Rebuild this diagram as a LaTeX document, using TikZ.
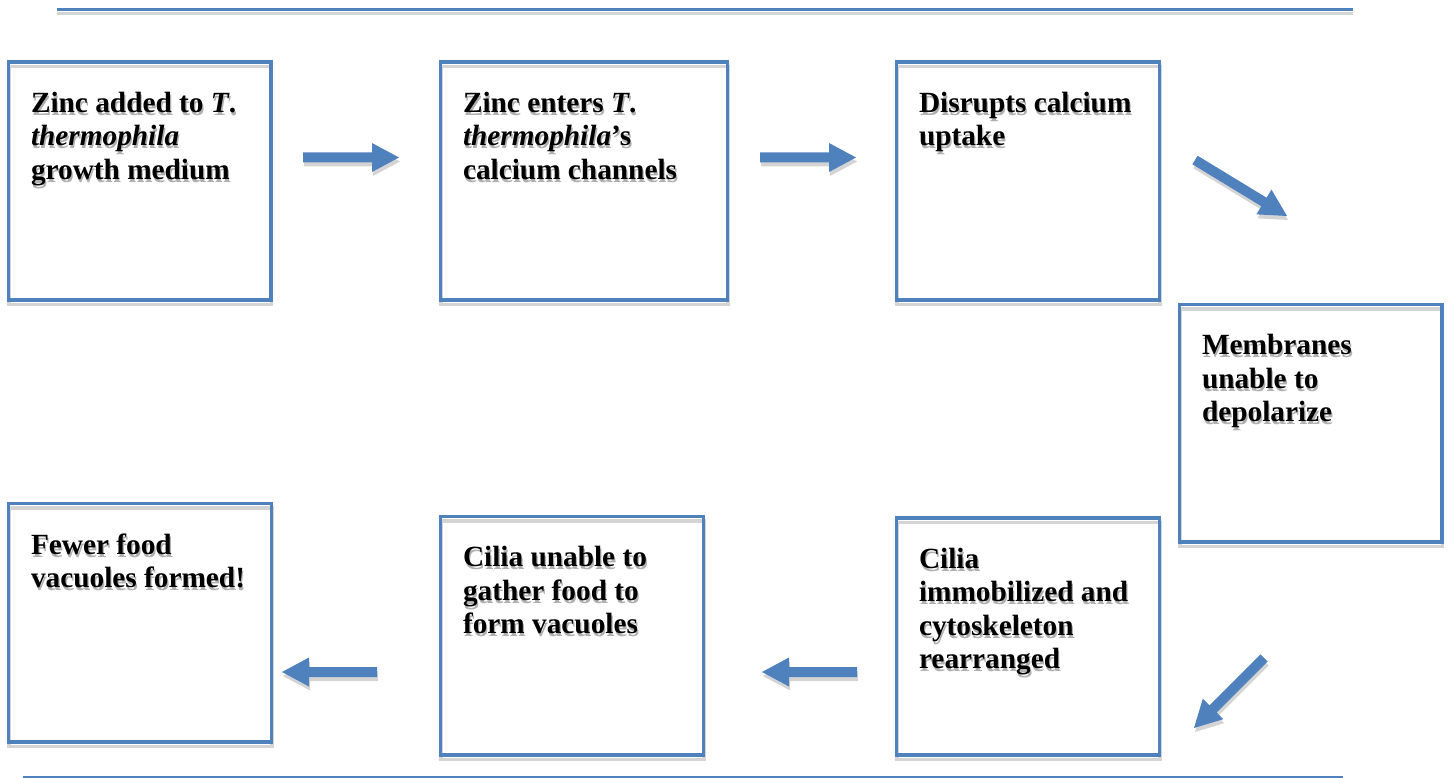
\documentclass[tikz,border=0pt]{standalone}
\usepackage{fontspec}
\setmainfont{Liberation Serif}
\usetikzlibrary{calc,backgrounds}
\definecolor{accent}{HTML}{4F81BD}
\definecolor{shade}{HTML}{D4D4D4}
\definecolor{tshade}{HTML}{B0B0B0}
\newcommand\blockarrow[3][]{%
  \coordinate (#2-hb) at ($(#3)!27pt!(#2)$);
  \fill[#1] ($(#2)!5pt!90:(#3)$) -- ($(#2-hb)!5pt!90:(#3)$) -- ($(#2-hb)!14.5pt!90:(#3)$) -- (#3)
     -- ($(#2-hb)!14.5pt!-90:(#3)$) -- ($(#2-hb)!5pt!-90:(#3)$) -- ($(#2)!5pt!-90:(#3)$) -- cycle;
}
\newcommand\TextA{Zinc added to \textit{T}.\\\textit{thermophila}\\growth medium}
\newcommand\TextB{Zinc enters \textit{T}.\\\textit{thermophila}’s\\calcium channels}
\newcommand\TextC{Disrupts calcium\\uptake}
\newcommand\TextD{Membranes\\unable to\\depolarize}
\newcommand\TextE{Cilia\\immobilized and\\cytoskeleton\\rearranged}
\newcommand\TextF{Cilia unable to\\gather food to\\form vacuoles}
\newcommand\TextG{Fewer food\\vacuoles formed!}
\tikzset{
  box/.style={draw=accent, line width=3.4pt, rectangle, inner sep=0pt, outer sep=0pt},
  boxshadow/.style={draw=shade, line width=3.4pt},
  txt/.style={anchor=north west, inner sep=0pt, outer sep=0pt, align=left,
    font=\fontsize{29.3}{33.5}\selectfont\bfseries},
  txtshadow/.style={txt, text=tshade},
  rule/.style={draw=accent, line width=2.5pt},
  ruleshadow/.style={draw=shade, line width=3pt},
  arrowfill/.style={fill=accent},
  arrowshadow/.style={fill=shade, transform canvas={shift={(1pt,-4pt)}}},
}
\begin{document}
\begin{tikzpicture}[x=1pt,y=-1pt]
\useasboundingbox (0,0) rectangle (1449,778);
% boxes
\node[box, minimum width=262.5pt, minimum height=238pt] (b1) at (139.75,181) {};
\node[box, minimum width=287pt, minimum height=238pt] (b2) at (584,181) {};
\node[box, minimum width=263pt, minimum height=238pt] (b3) at (1028,181) {};
\node[box, minimum width=262.5pt, minimum height=237.5pt] (b4) at (1310.75,423.25) {};
\node[box, minimum width=263pt, minimum height=237pt] (b5) at (1028,636.5) {};
\node[box, minimum width=263pt, minimum height=238.5pt] (b6) at (572,635.75) {};
\node[box, minimum width=263pt, minimum height=238.5pt] (b7) at (140,622.75) {};
% texts
\node[txt] (t1) at ([shift={(22.5,30)}]b1.north west) {\TextA};
\node[txt] (t2) at ([shift={(22.5,30)}]b2.north west) {\TextB};
\node[txt] (t3) at ([shift={(22.5,30)}]b3.north west) {\TextC};
\node[txt] (t4) at ([shift={(22.5,30)}]b4.north west) {\TextD};
\node[txt] (t5) at ([shift={(22.5,30)}]b5.north west) {\TextE};
\node[txt] (t6) at ([shift={(22.5,30)}]b6.north west) {\TextF};
\node[txt] (t7) at ([shift={(22.5,30)}]b7.north west) {\TextG};
% rules
\coordinate (r1a) at (57,9.5);
\coordinate (r1b) at (1353,9.5);
\coordinate (r2a) at (23,776.5);
\coordinate (r2b) at (1343,776.5);
\draw[rule] (r1a) -- (r1b);
\draw[rule, line width=2pt] (r2a) -- (r2b);
% arrows
\coordinate (a1t) at (303,157.5); \coordinate (a1h) at (399,157.5);
\coordinate (a2t) at (760,157.5); \coordinate (a2h) at (856,157.5);
\coordinate (a3t) at (1195,160);  \coordinate (a3h) at (1287,216);
\coordinate (a4t) at (1264,658);  \coordinate (a4h) at (1194,728);
\coordinate (a5t) at (857,672);   \coordinate (a5h) at (762,672);
\coordinate (a6t) at (377,672);   \coordinate (a6h) at (282,672);
\blockarrow[arrowshadow]{a1t}{a1h}
\blockarrow[arrowshadow]{a2t}{a2h}
\blockarrow[arrowshadow]{a3t}{a3h}
\blockarrow[arrowshadow]{a4t}{a4h}
\blockarrow[arrowshadow]{a5t}{a5h}
\blockarrow[arrowshadow]{a6t}{a6h}
\blockarrow[arrowfill]{a1t}{a1h}
\blockarrow[arrowfill]{a2t}{a2h}
\blockarrow[arrowfill]{a3t}{a3h}
\blockarrow[arrowfill]{a4t}{a4h}
\blockarrow[arrowfill]{a5t}{a5h}
\blockarrow[arrowfill]{a6t}{a6h}
% shadows behind
\begin{scope}[on background layer]
  \fill[white] (0,0) rectangle (1449,778);
  \draw[ruleshadow] ([shift={(0,4.5)}]r1a) -- ([shift={(0,4.5)}]r1b);
  \foreach \b in {b1,b2,b3,b4,b5,b6,b7}
    \draw[boxshadow] ([shift={(0.5,4.5)}]\b.north west) rectangle ([shift={(0.5,4.5)}]\b.south east);
  \node[txtshadow] (s1) at ([shift={(1.2,3)}]t1.north west) {\TextA};
  \node[txtshadow] (s2) at ([shift={(1.2,3)}]t2.north west) {\TextB};
  \node[txtshadow] (s3) at ([shift={(1.2,3)}]t3.north west) {\TextC};
  \node[txtshadow] (s4) at ([shift={(1.2,3)}]t4.north west) {\TextD};
  \node[txtshadow] (s5) at ([shift={(1.2,3)}]t5.north west) {\TextE};
  \node[txtshadow] (s6) at ([shift={(1.2,3)}]t6.north west) {\TextF};
  \node[txtshadow] (s7) at ([shift={(1.2,3)}]t7.north west) {\TextG};
\end{scope}
\end{tikzpicture}
\end{document}
